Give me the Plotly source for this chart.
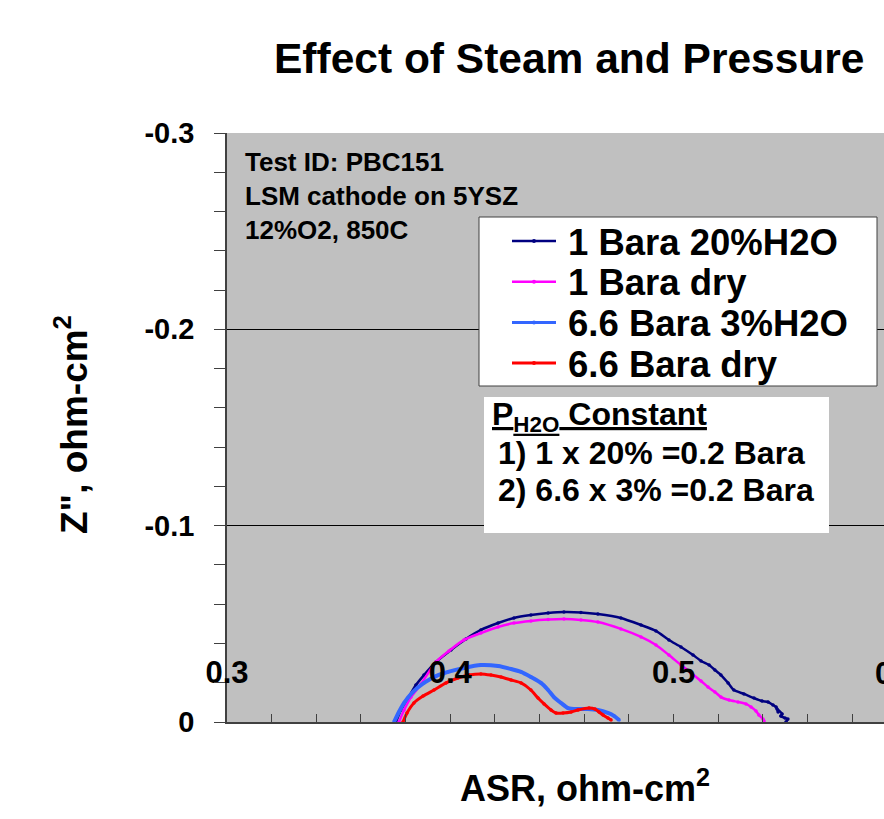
import plotly.graph_objects as go

# ---------------- data ----------------
series_names = ["1 Bara 20%H2O", "1 Bara dry", "6.6 Bara 3%H2O", "6.6 Bara dry"]

asr_1bar_wet = [0.3757, 0.3779, 0.3811, 0.3846, 0.3882, 0.3936, 0.4003, 0.4070, 0.4137, 0.4214,
                0.4285, 0.4361, 0.4438, 0.4509, 0.4585, 0.4661, 0.4764, 0.4854, 0.4921, 0.4979,
                0.5033, 0.5087, 0.5123, 0.5159, 0.5185, 0.5212, 0.5244, 0.5270, 0.5315, 0.5360,
                0.5396, 0.5423, 0.5445, 0.5459, 0.5468, 0.5463, 0.5486, 0.5480, 0.5499, 0.5512, 0.5503]
z_1bar_wet = [0.0, -0.0061, -0.0122, -0.0188, -0.0239, -0.0306, -0.0367, -0.0423, -0.0469, -0.0504,
              -0.0530, -0.0545, -0.0555, -0.0560, -0.0558, -0.0550, -0.0530, -0.0494, -0.0464, -0.0418,
              -0.0382, -0.0341, -0.0311, -0.0290, -0.0265, -0.0239, -0.0199, -0.0163, -0.0143, -0.0122,
              -0.0107, -0.0102, -0.0087, -0.0076, -0.0051, -0.0066, -0.0041, -0.0030, -0.0020, -0.0015, 0.0]

asr_1bar_dry = [0.3770, 0.3793, 0.3824, 0.3869, 0.3936, 0.3994, 0.4061, 0.4137, 0.4214, 0.4285,
                0.4361, 0.4438, 0.4509, 0.4585, 0.4661, 0.4764, 0.4854, 0.4921, 0.4979, 0.5033,
                0.5078, 0.5123, 0.5154, 0.5185, 0.5212, 0.5248, 0.5288, 0.5324, 0.5347, 0.5369,
                0.5382, 0.5400, 0.5405]
z_1bar_dry = [0.0, -0.0061, -0.0127, -0.0194, -0.0306, -0.0362, -0.0418, -0.0453, -0.0484, -0.0504,
              -0.0515, -0.0522, -0.0525, -0.0520, -0.0509, -0.0474, -0.0433, -0.0392, -0.0341, -0.0290,
              -0.0250, -0.0209, -0.0178, -0.0153, -0.0127, -0.0112, -0.0102, -0.0092, -0.0076, -0.0056,
              -0.0036, -0.0015, -0.0005]

asr_66bar_wet = [0.3748, 0.3770, 0.3793, 0.3833, 0.3882, 0.3936, 0.3990, 0.4061, 0.4137, 0.4214,
                 0.4272, 0.4317, 0.4361, 0.4406, 0.4438, 0.4464, 0.4496, 0.4527, 0.4572, 0.4617,
                 0.4661, 0.4706, 0.4733, 0.4756]
z_66bar_wet = [0.0, -0.0051, -0.0097, -0.0153, -0.0199, -0.0234, -0.0255, -0.0275, -0.0290, -0.0285,
               -0.0270, -0.0255, -0.0229, -0.0199, -0.0163, -0.0127, -0.0097, -0.0071, -0.0066, -0.0066,
               -0.0061, -0.0046, -0.0031, -0.0010]

asr_66bar_dry = [0.3788, 0.3806, 0.3837, 0.3878, 0.3927, 0.3981, 0.4034, 0.4084, 0.4137, 0.4182,
                 0.4227, 0.4272, 0.4317, 0.4361, 0.4393, 0.4420, 0.4451, 0.4473, 0.4505, 0.4541,
                 0.4572, 0.4621, 0.4648, 0.4666, 0.4684, 0.4706, 0.4720]
z_66bar_dry = [0.0, -0.0046, -0.0097, -0.0132, -0.0163, -0.0199, -0.0224, -0.0239, -0.0245, -0.0239,
               -0.0229, -0.0214, -0.0199, -0.0163, -0.0122, -0.0092, -0.0061, -0.0046, -0.0046, -0.0051,
               -0.0061, -0.0071, -0.0066, -0.0051, -0.0036, -0.0020, -0.0010]

x_tick_vals = [0.3, 0.4, 0.5]
y_tick_vals = [0.0, -0.1, -0.2, -0.3]
y_tick_text = ["0", "-0.1", "-0.2", "-0.3"]

colors = ["#000080", "#FF00FF", "#3366FF", "#FF0000"]
widths = [2.5, 2.5, 4, 3]

# ---------------- layout geometry (pixels) ----------------
W, H = 884, 819
L, R, T, B = 227, 0, 133, 97
PW, PH = W - L - R, H - T - B
X0 = 0.3
PX_PER_UNIT = 2233.0
X1 = X0 + PW / PX_PER_UNIT

def pxx(x):
    return (x - L) / PW

def pxy(y):
    return (H - B - y) / PH

FONT = "Liberation Sans, Arial, sans-serif"
AXC = "#404040"

fig = go.Figure()
data = [(asr_1bar_wet, z_1bar_wet), (asr_1bar_dry, z_1bar_dry),
        (asr_66bar_wet, z_66bar_wet), (asr_66bar_dry, z_66bar_dry)]
for (xs, ys), name, c, w in zip(data, series_names, colors, widths):
    fig.add_trace(go.Scatter(x=xs, y=ys, name=name, mode="lines+markers",
                             line=dict(color=c, width=w, shape="spline", smoothing=0.6),
                             marker=dict(color=c, size=3.5)))

fig.update_layout(
    width=W, height=H,
    margin=dict(l=L, r=R, t=T, b=B, pad=0),
    paper_bgcolor="white", plot_bgcolor="#C0C0C0",
    font=dict(family=FONT, color="black"),
    showlegend=False,
    xaxis=dict(range=[X0, X1], tickmode="array", tickvals=x_tick_vals,
               ticks="inside", ticklen=8, tickcolor=AXC, tickwidth=1,
               showline=True, linecolor=AXC, linewidth=1.5,
               showgrid=False, zeroline=False,
               ticklabelposition="inside", ticklabeloverflow="allow",
               ticklabelstandoff=28,
               tickfont=dict(size=31, family=FONT, weight="bold", color="black"),
               minor=dict(dtick=0.02, tick0=0.3, ticks="inside", ticklen=8,
                          tickcolor=AXC, showgrid=False)),
    yaxis=dict(range=[0, -0.3], tickmode="array", tickvals=y_tick_vals, ticktext=y_tick_text,
               ticks="outside", ticklen=11, tickcolor=AXC, tickwidth=1,
               showline=True, linecolor=AXC, linewidth=1.5,
               showgrid=True, gridcolor="black", gridwidth=1, zeroline=False,
               ticklabelstandoff=14,
               tickfont=dict(size=29, family=FONT, weight="bold", color="black"),
               minor=dict(dtick=0.02, tick0=0, ticks="outside", ticklen=11,
                          tickcolor=AXC, showgrid=False)),
)

ann = []
shapes = []
# title
ann.append(dict(text="Effect of Steam and Pressure", xref="paper", yref="paper",
                x=pxx(569), y=pxy(59), xanchor="center", yanchor="middle", showarrow=False,
                font=dict(size=42.5, family=FONT, weight="bold")))
# axis titles
ann.append(dict(text="ASR, ohm-cm<sup>2</sup>", xref="paper", yref="paper",
                x=pxx(585), y=pxy(786), xanchor="center", yanchor="middle", showarrow=False,
                font=dict(size=36, family=FONT, weight="bold")))
ann.append(dict(text="Z\", ohm-cm<sup>2</sup>", xref="paper", yref="paper", textangle=-90,
                x=pxx(71), y=pxy(425), xanchor="center", yanchor="middle", showarrow=False,
                font=dict(size=37, family=FONT, weight="bold")))
# partially visible 0.6 tick label at the clipped right edge
ann.append(dict(text="0.6", xref="paper", yref="paper", x=pxx(227 + 0.3 * PX_PER_UNIT), y=pxy(673),
                xanchor="center", yanchor="middle", showarrow=False,
                font=dict(size=31, family=FONT, weight="bold")))
# top-left info text
for i, line in enumerate(["Test ID: PBC151", "LSM cathode on 5YSZ", "12%O2, 850C"]):
    ann.append(dict(text=line, xref="paper", yref="paper", x=pxx(243), y=pxy(162 + 34 * i),
                    xanchor="left", yanchor="middle", showarrow=False,
                    font=dict(size=26, family=FONT, weight="bold")))

# legend box (drawn by hand to match the original spacing)
shapes.append(dict(type="rect", xref="paper", yref="paper",
                   x0=pxx(479), x1=pxx(877), y0=pxy(217), y1=pxy(386),
                   fillcolor="white", line=dict(color=AXC, width=1), layer="above"))
for i, (name, c, w) in enumerate(zip(series_names, colors, widths)):
    yc = 241 + 40.7 * i
    shapes.append(dict(type="line", xref="paper", yref="paper",
                       x0=pxx(512), x1=pxx(556), y0=pxy(yc), y1=pxy(yc),
                       line=dict(color=c, width=min(w, 3)), layer="above"))
    shapes.append(dict(type="circle", xref="paper", yref="paper",
                       x0=pxx(532), x1=pxx(536), y0=pxy(yc - 2), y1=pxy(yc + 2),
                       fillcolor=c, line=dict(color=c, width=0), layer="above"))
    ann.append(dict(text=name, xref="paper", yref="paper", x=pxx(566), y=pxy(yc + 1),
                    xanchor="left", yanchor="middle", showarrow=False,
                    font=dict(size=36.5, family=FONT, weight="bold")))

# P_H2O box
shapes.append(dict(type="rect", xref="paper", yref="paper",
                   x0=pxx(484), x1=pxx(829), y0=pxy(397), y1=pxy(533),
                   fillcolor="white", line=dict(width=0), layer="above"))
ann.append(dict(text="<u>P<sub>H2O</sub> Constant</u>", xref="paper", yref="paper",
                x=pxx(490), y=pxy(416), xanchor="left", yanchor="middle", showarrow=False,
                font=dict(size=32, family=FONT, weight="bold")))
for i, line in enumerate(["1) 1 x 20% =0.2 Bara", "2) 6.6 x 3% =0.2 Bara"]):
    ann.append(dict(text=line, xref="paper", yref="paper", x=pxx(496), y=pxy(453 + 37 * i),
                    xanchor="left", yanchor="middle", showarrow=False,
                    font=dict(size=32, family=FONT, weight="bold")))
fig.update_layout(annotations=ann, shapes=shapes)

fig.write_html("out.html")
